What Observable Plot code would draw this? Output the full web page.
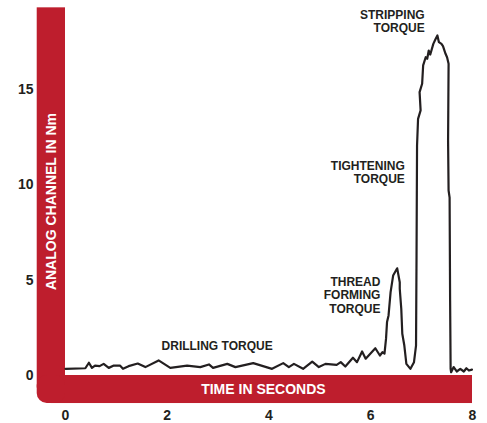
<!DOCTYPE html>
<html><head><meta charset="utf-8">
<script src="https://cdn.jsdelivr.net/npm/d3@7"></script>
<script src="https://cdn.jsdelivr.net/npm/@observablehq/plot@0.6"></script>
<style>body{margin:0;background:#fff}</style>
</head><body><div id="chart"></div>
<script>
// Time in seconds
const time = [0, 0.39, 0.46, 0.52, 0.58, 0.67, 0.75, 0.85, 0.95, 1.07, 1.13, 1.24, 1.42, 1.57, 1.83, 2.06, 2.39, 2.65, 2.82, 2.90,
  3.18, 3.34, 3.69, 4.06, 4.28, 4.39, 4.49, 4.67, 4.85, 4.98, 5.11, 5.33, 5.41, 5.50, 5.65, 5.73, 5.83, 5.90, 6.09, 6.18,
  6.23, 6.27, 6.30, 6.32, 6.35, 6.39, 6.44, 6.52, 6.57, 6.57, 6.60, 6.62, 6.66, 6.70, 6.78, 6.85, 6.89, 6.90, 6.91, 6.93,
  6.98, 6.96, 7.01, 7.03, 7.08, 7.11, 7.14, 7.17, 7.23, 7.27, 7.31, 7.34, 7.39, 7.42, 7.47, 7.50, 7.53, 7.52, 7.53, 7.55,
  7.56, 7.57, 7.58, 7.63, 7.69, 7.76, 7.83, 7.88, 7.93, 7.99];
// Analog channel in Nm
const torque = [0.35, 0.38, 0.67, 0.40, 0.52, 0.49, 0.61, 0.40, 0.52, 0.52, 0.35, 0.49, 0.63, 0.44, 0.79, 0.40, 0.52, 0.44, 0.58, 0.40,
  0.61, 0.44, 0.65, 0.35, 0.65, 0.44, 0.61, 0.35, 0.73, 0.44, 0.61, 0.56, 0.70, 0.47, 0.93, 0.70, 1.26, 0.88, 1.43, 1.05,
  1.22, 1.15, 1.92, 2.80, 3.15, 4.37, 5.24, 5.62, 4.89, 4.55, 3.50, 2.19, 1.57, 0.61, 0.35, 0.70, 1.57, 6.29, 12.06, 13.46,
  13.90, 14.86, 15.30, 16.26, 16.69, 16.61, 17.04, 16.83, 17.39, 17.62, 17.83, 17.48, 17.39, 17.27, 16.87, 16.69, 16.35, 12.32, 9.70, 9.33,
  3.93, 0.35, 0.17, 0.44, 0.21, 0.35, 0.21, 0.38, 0.26, 0.31];

const xTicks = [0, 2, 4, 6, 8];
const yTicks = [0, 5, 10, 15];
const xTitle = "TIME IN SECONDS";
const yTitle = "ANALOG CHANNEL IN Nm";

const annoText = ["DRILLING TORQUE", "STRIPPING\nTORQUE", "TIGHTENING\nTORQUE", "THREAD\nFORMING\nTORQUE"];
const annoX = [2.98, 7.06, 6.67, 6.19];
const annoY = [1.54, 18.58, 10.65, 4.21];

// layout constants (data units)
const barW = 0.556, barH = 1.47, barTop = 19.28;
const red = "#be1e2d", ink = "#231f20";

const data = time.map((t, i) => ({t, v: torque[i]}));
const annos = annoText.map((s, i) => ({s, x: annoX[i], y: annoY[i]}));

const chart = Plot.plot({
  width: 487, height: 423,
  marginLeft: 65, marginRight: 15, marginTop: 31.74, marginBottom: 48,
  x: {domain: [0, 8]},
  y: {domain: [0, 18]},
  style: {fontFamily: "'Liberation Sans', Arial, Helvetica, sans-serif", background: "#fff", overflow: "visible"},
  marks: [
    Plot.rect([{x1: -barW, x2: 0, y1: -barH * 0.45, y2: barTop}], {x1: "x1", x2: "x2", y1: "y1", y2: "y2", fill: red}),
    Plot.rect([{x1: -barW * 0.5, x2: 8, y1: -barH, y2: 0}], {x1: "x1", x2: "x2", y1: "y1", y2: "y2", fill: red}),
    Plot.rect([{x1: -barW, x2: 0, y1: -barH, y2: 0}], {x1: "x1", x2: "x2", y1: "y1", y2: "y2", fill: red, rx: 10}),
    Plot.text([yTitle], {x: () => -barW / 2, y: () => 9.12, text: d => d, rotate: -90, fill: "#fff", fontSize: 14, fontWeight: "bold"}),
    Plot.text([xTitle], {x: () => 3.89, y: () => -barH / 2, text: d => d, fill: "#fff", fontSize: 14, fontWeight: "bold"}),
    Plot.axisX(xTicks, {tickSize: 0, tickPadding: 35, fontSize: 14, fontWeight: "bold", fill: ink, label: null}),
    Plot.axisY(yTicks, {tickSize: 0, tickPadding: 32, fontSize: 14, fontWeight: "bold", fill: ink, label: null}),
    Plot.text(annos.slice(0, 1), {x: "x", y: "y", text: "s", fill: ink, fontSize: 12, fontWeight: "bold", textAnchor: "middle"}),
    Plot.text(annos.slice(1), {x: "x", y: "y", text: "s", fill: ink, fontSize: 12, fontWeight: "bold", textAnchor: "end", lineHeight: 1.1}),
    Plot.line(data, {x: "t", y: "v", stroke: ink, strokeWidth: 2.2})
  ]
});
document.getElementById("chart").append(chart);
</script>
</body></html>
